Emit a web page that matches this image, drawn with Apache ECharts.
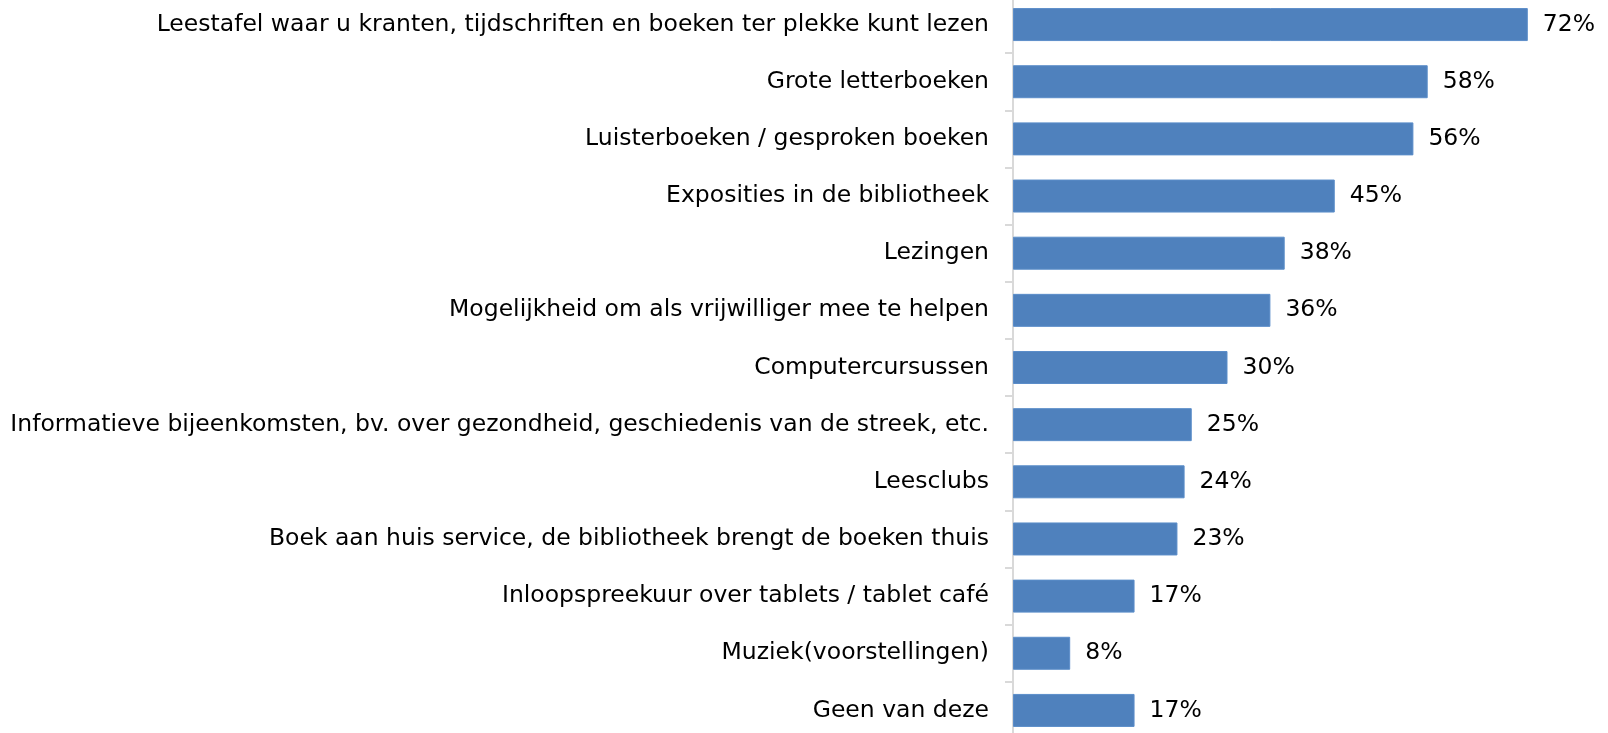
<!DOCTYPE html>
<html>
<head>
<meta charset="utf-8">
<script src="https://cdn.jsdelivr.net/npm/echarts@6/dist/echarts.min.js"></script>
<style>
html,body{margin:0;padding:0;background:#fff;}
#c{width:1608px;height:733px;}
</style>
</head>
<body>
<div id="c"></div>
<script>
const categories = [
  "Leestafel waar u kranten, tijdschriften en boeken ter plekke kunt lezen",
  "Grote letterboeken",
  "Luisterboeken / gesproken boeken",
  "Exposities in de bibliotheek",
  "Lezingen",
  "Mogelijkheid om als vrijwilliger mee te helpen",
  "Computercursussen",
  "Informatieve bijeenkomsten, bv. over gezondheid, geschiedenis van de streek, etc.",
  "Leesclubs",
  "Boek aan huis service, de bibliotheek brengt de boeken thuis",
  "Inloopspreekuur over tablets / tablet café",
  "Muziek(voorstellingen)",
  "Geen van deze"
];
const values = [72, 58, 56, 45, 38, 36, 30, 25, 24, 23, 17, 8, 17];

const FONT = '"DejaVu Sans", sans-serif';
const chart = echarts.init(document.getElementById('c'));
chart.setOption({
  animation: false,
  backgroundColor: '#ffffff',
  grid: {
    left: 1013, top: -4, width: 572, height: 743,
    containLabel: false,
    outerBoundsMode: 'none'
  },
  xAxis: {
    type: 'value', min: 0, max: 80,
    show: false,
    splitLine: { show: false }
  },
  yAxis: {
    type: 'category',
    data: categories,
    inverse: true,
    axisLine: { show: true, lineStyle: { color: '#D9D9D9', width: 2 } },
    axisTick: { show: true, length: 8, lineStyle: { color: '#D9D9D9', width: 2 } },
    axisLabel: {
      margin: 24,
      color: '#000000',
      fontFamily: FONT,
      fontSize: 23.5,
      padding: [3, 0, 0, 0]
    }
  },
  series: [{
    type: 'bar',
    data: values,
    barWidth: 33,
    itemStyle: { color: '#4F81BD', borderColor: '#5B8DC9', borderWidth: 1 },
    label: {
      show: true,
      position: 'right',
      distance: 15,
      formatter: '{c}%',
      color: '#000000',
      fontFamily: FONT,
      fontSize: 23.5,
      padding: [3, 0, 0, 0]
    }
  }]
});
</script>
</body>
</html>
